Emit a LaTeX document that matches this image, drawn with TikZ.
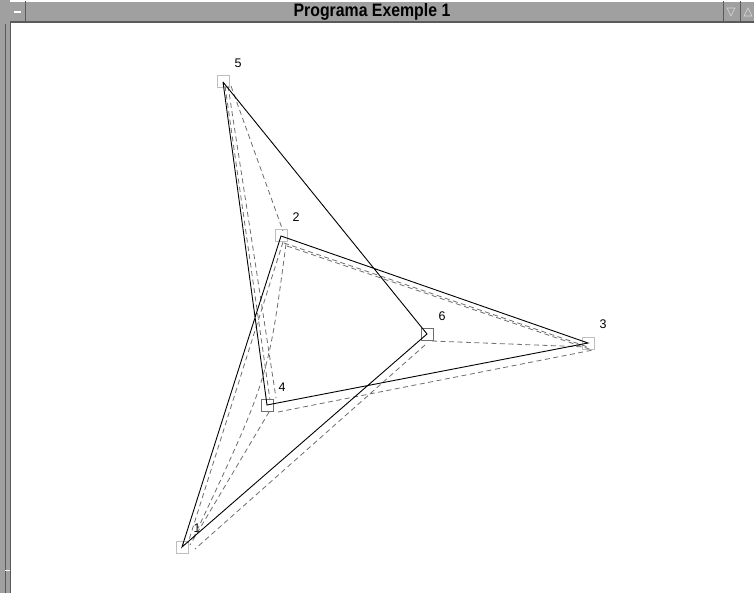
\documentclass[tikz,border=0pt]{standalone}
\usepackage{fontspec}
\setmainfont{Liberation Sans}
\newfontfamily\titlefont[FakeStretch=0.88]{Liberation Sans}
\usetikzlibrary{calc}
\definecolor{barg}{RGB}{160,160,160}
\definecolor{darkg}{RGB}{90,90,90}
\definecolor{lightsq}{RGB}{190,190,190}
\definecolor{darksq}{RGB}{110,110,110}
\definecolor{dashg}{RGB}{110,110,110}
\tikzset{
  ptbox/.style={draw=lightsq, line width=1pt, minimum size=12pt, inner sep=0pt, rectangle},
  ptboxd/.style={draw=darksq, line width=1pt, minimum size=12pt, inner sep=0pt, rectangle},
  lab/.style={font=\fontsize{12.5}{12.5}\selectfont, inner sep=0pt},
  solidln/.style={black, line width=0.9pt},
  dashln/.style={dashg, line width=0.8pt, dash pattern=on 5pt off 3.5pt},
}
\begin{document}
\begin{tikzpicture}[x=1pt,y=-1pt]
\useasboundingbox (0,0) rectangle (754,593);
\fill[white] (0,0) rectangle (754,593);
% window frame
\fill[barg] (0,0) rectangle (10,593);
\draw[darkg, line width=0.8pt] (10,22) -- (10,593);
\draw[darkg, line width=0.8pt] (5,24) -- (5,593);
\draw[white, line width=1pt] (5,570) -- (10,570);
\fill[barg] (10,1) rectangle (754,22);
\draw[white, line width=0.8pt] (10,1.5) -- (754,1.5);
\draw[darkg, line width=1.2pt] (10,22) -- (754,22);
\draw[darkg, line width=0.8pt] (25,1) -- (25,22);
\draw[darkg, line width=0.8pt] (723,1) -- (723,22);
\draw[darkg, line width=0.8pt] (740,1) -- (740,22);
\coordinate (minA) at (14,12);
\coordinate (minB) at (21,12);
\draw[white, line width=1.5pt] (minA) -- (minB);
\coordinate (dnA) at (727,8);
\coordinate (dnB) at (735,8);
\coordinate (dnC) at (731,16);
\draw[white!85!black, line width=0.6pt] (dnA) -- (dnB) -- (dnC) -- cycle;
\coordinate (upA) at (744,16);
\coordinate (upB) at (752,16);
\coordinate (upC) at (748,8);
\draw[white!85!black, line width=0.6pt] (upA) -- (upB) -- (upC) -- cycle;
\node[font=\titlefont\bfseries\fontsize{18}{18}\selectfont, inner sep=0pt] (title) at (372,12) {Programa Exemple 1};
% points
\node[ptbox]  (p5) at (223,82) {};
\node[ptbox]  (p2) at (281,236) {};
\node[ptboxd] (p6) at (427,334) {};
\node[ptbox]  (p3) at (588,343) {};
\node[ptboxd] (p4) at (267,405) {};
\node[ptbox]  (p1) at (182,547) {};
\node[lab] (l5) at (238,63) {5};
\node[lab] (l2) at (296,217) {2};
\node[lab] (l6) at (442,316) {6};
\node[lab] (l3) at (603,324) {3};
\node[lab] (l4) at (282,387) {4};
\node[lab] (l1) at (197,528) {1};
% dashed
\draw[dashln] ($(p5.center)+(2,4)$) -- ($(p4.center)+(3,-5)$);
\draw[dashln] ($(p5.center)+(5,4)$) -- ($(p4.center)+(9,-7)$);
\draw[dashln] ($(p5.center)+(8,4)$) -- ($(p2.center)+(2,-5)$);
\draw[dashln] ($(p2.center)+(3,7)$) -- ($(p3.center)+(0,4)$);
\draw[dashln] ($(p2.center)+(6,10)$) -- ($(p3.center)+(4,7)$);
\draw[dashln] ($(p6.center)+(5,7)$) -- ($(p3.center)+(-1,4)$);
\draw[dashln] ($(p4.center)+(11,7)$) -- ($(p3.center)+(5,7)$);
\draw[dashln] ($(p6.center)+(-2,11)$) -- ($(p1.center)+(13,2)$);
\draw[dashln] ($(p4.center)+(2,7)$) -- ($(p1.center)+(8,-2)$);
\draw[dashln] ($(p2.center)+(2,6)$) -- ($(p1.center)+(6,-4)$);
\draw[dashln] ($(p2.center)+(5,8)$) .. controls (268,380) .. ($(p1.center)+(10,-6)$);
% solid polygon
\draw[solidln] (p5.center) -- (p4.center) -- (p3.center) -- (p2.center) -- (p1.center) -- (p6.center) -- (p5.center);
\end{tikzpicture}
\end{document}
